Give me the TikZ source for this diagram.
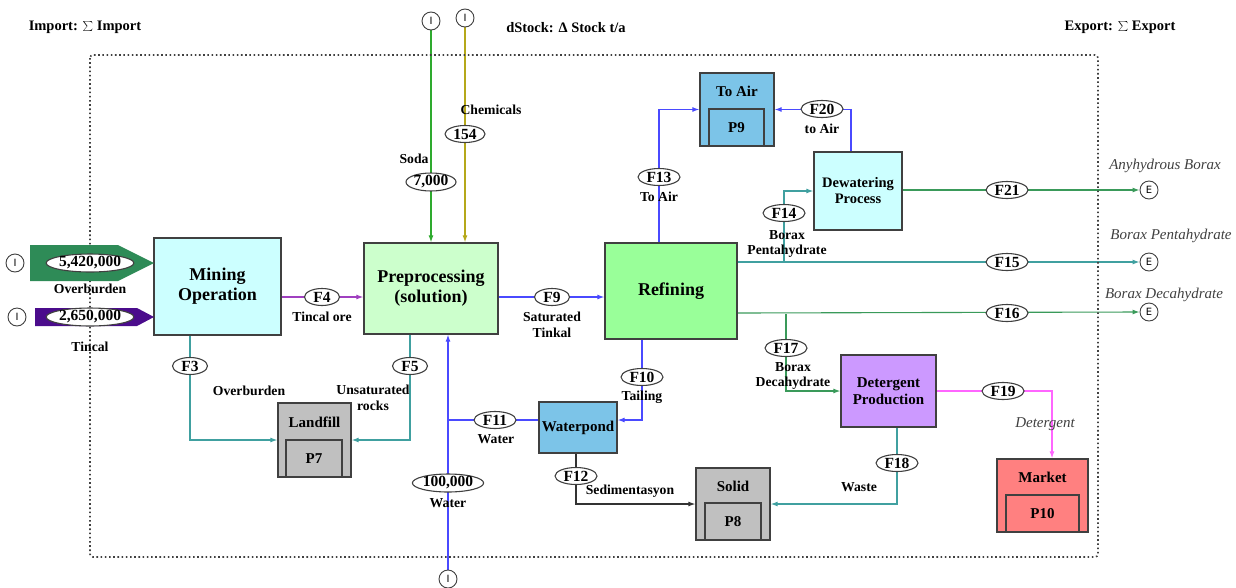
\documentclass[tikz,border=0pt]{standalone}
\usepackage{fontspec}
\setmainfont{Liberation Serif}
\setsansfont{DejaVu Sans}
\usetikzlibrary{shapes.geometric,arrows.meta,backgrounds}
\definecolor{cyanbox}{HTML}{CCFFFF}
\definecolor{lgreen}{HTML}{CCFFCC}
\definecolor{mgreen}{HTML}{99FF99}
\definecolor{skyb}{HTML}{7CC4E8}
\definecolor{purp}{HTML}{CC99FF}
\definecolor{salmon}{HTML}{FF8080}
\definecolor{grayb}{HTML}{C0C0C0}
\definecolor{bord}{HTML}{404040}
\definecolor{ovgreen}{HTML}{2E8B57}
\definecolor{tinpurp}{HTML}{4B0C8C}
\definecolor{sodac}{HTML}{2EAA2E}
\definecolor{chemc}{HTML}{B5A81A}
\definecolor{fourc}{HTML}{A040C0}
\definecolor{tealc}{HTML}{40A0A0}
\definecolor{bluec}{HTML}{4A4AFF}
\definecolor{greenc}{HTML}{3A9A5A}
\definecolor{pinkc}{HTML}{FF66FF}
\definecolor{darkc}{HTML}{333333}
\tikzset{
  box/.style={draw=bord, line width=1.3pt, inner sep=0pt, align=center, font=\bfseries\fontsize{18}{20}\selectfont},
  sbox/.style={box, font=\bfseries\fontsize{15}{17}\selectfont},
  stocklab/.style={inner sep=0pt, font=\bfseries\fontsize{15}{17}\selectfont},
  fl/.style={draw=bord, ellipse, fill=white, line width=1.1pt, inner sep=0pt, minimum height=17, minimum width=38, font=\bfseries\fontsize{15.5}{15.5}\selectfont},
  lab/.style={font=\bfseries\fontsize{13.7}{15.5}\selectfont, align=center, inner sep=0pt},
  ilab/.style={font=\itshape\fontsize{15}{16}\selectfont, text=black!75, inner sep=0pt},
  title/.style={font=\bfseries\fontsize{14.5}{16}\selectfont, inner sep=0pt},
  ioc/.style={circle, draw=bord, line width=0.9pt, fill=white, minimum size=18, inner sep=0pt, font=\sffamily\fontsize{10}{10}\selectfont},
  flow/.style={line width=1.1pt, -{Latex[length=7pt,width=5pt]}},
  flowplain/.style={line width=1.1pt},
  frame/.style={draw=bord, line width=1.6pt, dash pattern=on 1.6pt off 2.6pt, rounded corners=3pt}
}
\begin{document}
\begin{tikzpicture}[x=1pt,y=-1pt]
\useasboundingbox (0,0) rectangle (1236,587);
\draw[frame] (90,55) rectangle (1098,557);
% titles
\node[title] (t1) at (85,27) {Import: $\sum$ Import};
\node[title] (t2) at (566,28) {dStock: Δ Stock t/a};
\node[title] (t3) at (1120,27) {Export: $\sum$ Export};
% process boxes
\node[box, fill=cyanbox, minimum width=127, minimum height=97] (mining) at (217.5,286.5) {Mining\\Operation};
\node[box, fill=lgreen, minimum width=134, minimum height=91] (prep) at (431,288.5) {Preprocessing\\(solution)};
\node[box, fill=mgreen, minimum width=132, minimum height=96] (ref) at (671,291) {Refining};
\node[box, fill=cyanbox, minimum width=88, minimum height=78, font=\bfseries\fontsize{14.5}{16}\selectfont] (dew) at (858,191) {Dewatering\\Process};
\node[sbox, fill=purp, minimum width=95, minimum height=72] (det) at (888.5,391) {Detergent\\Production};
\node[sbox, fill=skyb, minimum width=78, minimum height=51] (wpond) at (578,427.5) {Waterpond};
% stock boxes
\node[box, fill=grayb, minimum width=73, minimum height=74] (landfill) at (314.5,440) {};
\node[stocklab] (landfillT) at (314.5,422) {Landfill};
\node[sbox, fill=grayb, minimum width=56, minimum height=37] (p7) at (314,458.5) {P7};
\node[box, fill=grayb, minimum width=74, minimum height=72] (solid) at (733,504) {};
\node[stocklab] (solidT) at (733,486) {Solid};
\node[sbox, fill=grayb, minimum width=56, minimum height=37] (p8) at (733,521.5) {P8};
\node[box, fill=skyb, minimum width=74, minimum height=73] (toair) at (737,109.5) {};
\node[stocklab] (toairT) at (737,91) {To Air};
\node[sbox, fill=skyb, minimum width=55, minimum height=37] (p9) at (736.5,127.5) {P9};
\node[box, fill=salmon, minimum width=91, minimum height=73] (market) at (1042.5,495.5) {};
\node[stocklab] (marketT) at (1042.5,477) {Market};
\node[sbox, fill=salmon, minimum width=73, minimum height=37] (p10) at (1042.5,513.5) {P10};
% import arrows
\fill[ovgreen] (30,245) -- (118,245) -- (154,263) -- (118,281) -- (30,281) -- cycle;
\fill[tinpurp] (35,308) -- (137,308) -- (154,317) -- (137,326) -- (35,326) -- cycle;
% import / export circles
\node[ioc] (iOver) at (15,263) {I};
\node[ioc] (iTinc) at (17,317) {I};
\node[ioc] (iSoda) at (431,21) {I};
\node[ioc] (iChem) at (465,18) {I};
\node[ioc] (iWater) at (448,579) {I};
\node[ioc] (eAnh) at (1149,190) {E};
\node[ioc] (ePenta) at (1149,262) {E};
\node[ioc] (eDeca) at (1149,312) {E};
% value ellipses
\node[fl, minimum width=77, font=\bfseries\fontsize{15.5}{15.5}\selectfont] (v5420) at (90,263) {5,420,000};
\node[fl, minimum width=77, minimum height=15, font=\bfseries\fontsize{15.5}{15.5}\selectfont] (v2650) at (90,317) {2,650,000};
\node[fl, minimum width=50] (v7000) at (431,182) {7,000};
\node[fl, minimum width=40] (v154) at (465,134) {154};
\node[fl, minimum width=66] (v100000) at (448,483) {100,000};
% flow ellipses
\node[fl, minimum width=35] (f3) at (190,366) {F3};
\node[fl, minimum width=35] (f4) at (322,297) {F4};
\node[fl, minimum width=35] (f5) at (410,366) {F5};
\node[fl, minimum width=35] (f9) at (552,297) {F9};
\node[fl, minimum width=42] (f10) at (642,377) {F10};
\node[fl, minimum width=42] (f11) at (495,420) {F11};
\node[fl, minimum width=42] (f12) at (576,476) {F12};
\node[fl, minimum width=42] (f13) at (659,177) {F13};
\node[fl, minimum width=42] (f14) at (784,213) {F14};
\node[fl, minimum width=42] (f15) at (1007,262) {F15};
\node[fl, minimum width=42] (f16) at (1007,313) {F16};
\node[fl, minimum width=42] (f17) at (786,348) {F17};
\node[fl, minimum width=42] (f18) at (897,463) {F18};
\node[fl, minimum width=42] (f19) at (1003,391) {F19};
\node[fl, minimum width=42] (f20) at (822,109) {F20};
\node[fl, minimum width=42] (f21) at (1007,190) {F21};
% helper coordinates
\coordinate (c20) at (851,109);
\coordinate (c14) at (784,262);
\coordinate (c17) at (786,314);
\coordinate (c19) at (1052,391);
% labels
\node[lab] (lOver) at (90,289) {Overburden};
\node[lab] (lTinc) at (90,347) {Tincal};
\node[lab] (lf4) at (322,317) {Tincal ore};
\node[lab] (lf3) at (249,391) {Overburden};
\node[lab] (lf5) at (373,398) {Unsaturated\\rocks};
\node[lab] (lSoda) at (414,159) {Soda};
\node[lab] (lChem) at (491,110) {Chemicals};
\node[lab] (lf9) at (552,325) {Saturated\\Tinkal};
\node[lab] (lf10) at (642,397) {Tailing};
\node[lab] (lf11) at (496,439) {Water};
\node[lab] (lf12) at (630,491) {Sedimentasyon};
\node[lab] (lWat) at (448,503) {Water};
\node[lab] (lf13) at (659,197) {To Air};
\node[lab] (lf20) at (822,129) {to Air};
\node[lab] (lf14) at (787,244) {Borax\\Pentahydrate};
\node[lab] (lf17) at (793,376) {Borax\\Decahydrate};
\node[lab] (lf18) at (859,487) {Waste};
\node[ilab] (lf19) at (1045,424) {Detergent};
\node[ilab] (lAnh) at (1165,166) {Anyhydrous Borax};
\node[ilab] (lPenta) at (1171,236) {Borax Pentahydrate};
\node[ilab] (lDeca) at (1164,295) {Borax Decahydrate};
% connectors
\begin{pgfonlayer}{background}
\draw[flow, sodac] (iSoda.south) -- (iSoda.south |- prep.north);
\draw[flow, chemc] (iChem.south) -- (iChem.south |- prep.north);
\draw[flow, bluec] (iWater.north) -- (iWater.north |- prep.south);
\draw[flow, fourc] (mining.east |- f4) -- (prep.west |- f4);
\draw[flow, tealc] (mining.south -| f3) |- (landfill.west);
\draw[flow, tealc] (prep.south -| f5) |- (landfill.east);
\draw[flow, bluec] (prep.east |- f9) -- (ref.west |- f9);
\draw[flow, bluec] (ref.south -| f10) |- (wpond.east |- f11);
\draw[flowplain, bluec] (wpond.west |- f11) -- (iWater |- f11);
\draw[flow, darkc] (wpond.south -| f12) |- (solid.west);
\draw[flow, bluec] (ref.north -| f13) |- (toair.west);
\draw[flow, bluec] (dew.north -| c20) |- (toair.east);
\draw[flow, tealc] (ref.east |- f15) -- (ePenta.west);
\draw[flow, tealc] (c14) |- (dew.west);
\draw[flow, greenc] (dew.east |- f21) -- (eAnh.west);
\draw[flow, greenc] (ref.east |- f16) -- (eDeca.west);
\draw[flow, greenc] (c17) |- (det.west);
\draw[flow, tealc] (det.south -| f18) |- (solid.east);
\draw[flow, pinkc] (det.east) -| (market.north -| c19);
\end{pgfonlayer}
\end{tikzpicture}
\end{document}
